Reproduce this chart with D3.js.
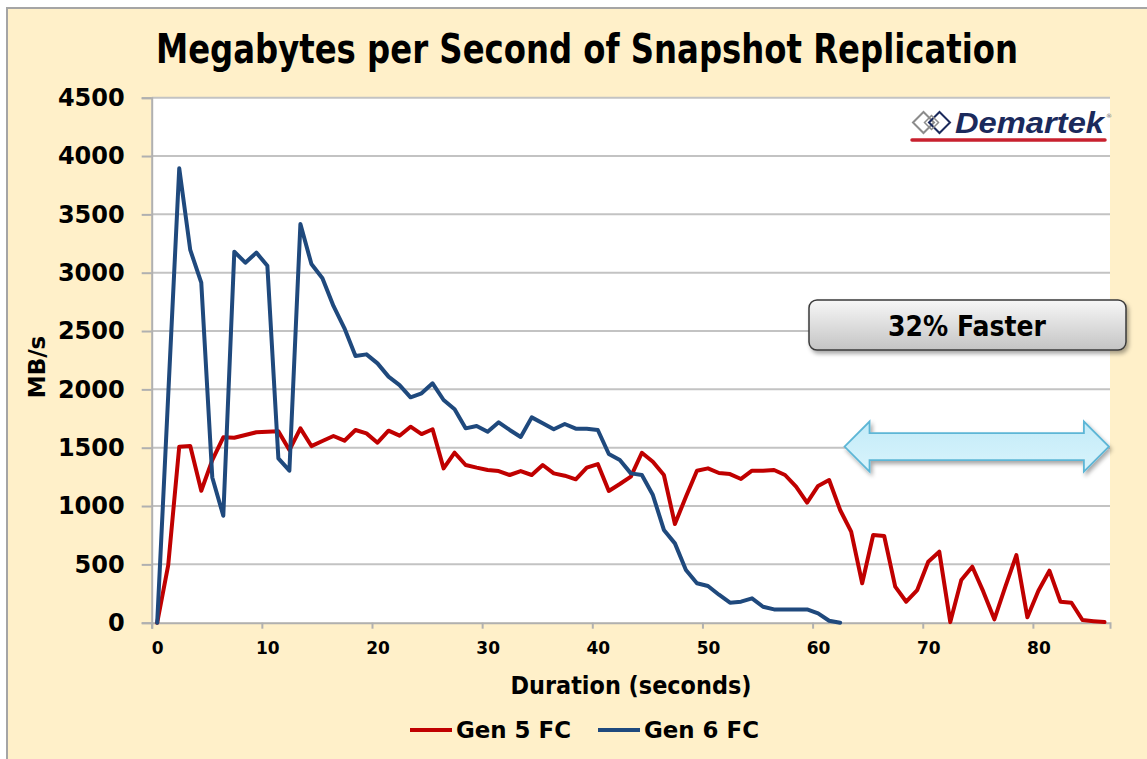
<!DOCTYPE html>
<html>
<head>
<meta charset="utf-8">
<script src="https://cdn.jsdelivr.net/npm/d3@7"></script>
<style>
  html, body { margin: 0; padding: 0; background: #ffffff; }
  svg { display: block; font-family: "DejaVu Sans", sans-serif; }
</style>
</head>
<body>
<div class="container"></div>
<script>
// chart values (one point per second)
const title = "Megabytes per Second of Snapshot Replication";
const seriesNames = ["Gen 5 FC", "Gen 6 FC"];
const gen5 = [0, 494, 1509, 1514, 1131, 1394, 1589, 1585, 1609, 1632,
  1637, 1640, 1480, 1666, 1514, 1557, 1600, 1560, 1652, 1623,
  1543, 1646, 1603, 1680, 1617, 1658, 1323, 1457, 1352, 1329,
  1309, 1300, 1266, 1300, 1266, 1352, 1280, 1260, 1229, 1329,
  1360, 1129, 1189, 1252, 1457, 1380, 1266, 846, 1080, 1303,
  1323, 1283, 1274, 1232, 1303, 1303, 1309, 1266, 1166, 1029,
  1172, 1223, 966, 780, 338, 752, 743, 309, 180, 280,
  523, 609, 5, 366, 480, 266, 29, 309, 580, 46,
  274, 446, 180, 171, 23, 13, 5];
const gen6 = [0, 1950, 3895, 3195, 2914, 1245, 917, 3180, 3086, 3172,
  3060, 1409, 1303, 3417, 3074, 2952, 2715, 2523, 2286, 2300,
  2223, 2109, 2037, 1932, 1966, 2052, 1909, 1829, 1666, 1686,
  1637, 1718, 1652, 1592, 1760, 1709, 1658, 1703, 1663, 1663,
  1652, 1446, 1394, 1280, 1266, 1094, 795, 680, 452, 338,
  315, 240, 172, 180, 209, 137, 114, 114, 114, 114,
  80, 17, 0];
const xTickLabels = [0, 10, 20, 30, 40, 50, 60, 70, 80];
const yTickValues = [0, 500, 1000, 1500, 2000, 2500, 3000, 3500, 4000, 4500];
const categoryCount = 87;

const w = 1147;
const h = 759;
const plot = { left: 151.7, right: 1110, top: 97.7, bottom: 622.7 };
const colors = ["#C00000", "#1F497D"];

const svg = d3.select(".container")
  .append("svg")
  .attr("width", w)
  .attr("height", h);

const defs = svg.append("defs");
const boxGrad = defs.append("linearGradient")
  .attr("id", "boxGrad").attr("x1", 0).attr("y1", 0).attr("x2", 0).attr("y2", 1);
boxGrad.append("stop").attr("offset", "0%").attr("stop-color", "#F7F7F7");
boxGrad.append("stop").attr("offset", "100%").attr("stop-color", "#C4C4C4");
const arrowGrad = defs.append("linearGradient")
  .attr("id", "arrowGrad").attr("x1", 0).attr("y1", 0).attr("x2", 0).attr("y2", 1);
arrowGrad.append("stop").attr("offset", "0%").attr("stop-color", "#C3EBF8");
arrowGrad.append("stop").attr("offset", "100%").attr("stop-color", "#D8F4FC");
const shadow = defs.append("filter").attr("id", "shadow")
  .attr("x", "-10%").attr("y", "-30%").attr("width", "130%").attr("height", "180%");
shadow.append("feDropShadow")
  .attr("dx", 2).attr("dy", 3).attr("stdDeviation", 2)
  .attr("flood-color", "#000").attr("flood-opacity", 0.35);

// cream frame
svg.append("rect")
  .attr("x", 7).attr("y", 8)
  .attr("width", w + 20).attr("height", h + 20)
  .attr("fill", "#FFF0C9")
  .attr("stroke", "#A5A5A5")
  .attr("stroke-width", 2);

// plot area
svg.append("rect")
  .attr("x", plot.left).attr("y", plot.top)
  .attr("width", plot.right - plot.left)
  .attr("height", plot.bottom - plot.top)
  .attr("fill", "#ffffff");

// scales: each second is one category, centered in its slot
const xScale = d3.scaleLinear()
  .domain([-0.5, categoryCount - 0.5])
  .range([plot.left, plot.right]);
const yScale = d3.scaleLinear()
  .domain([0, 4500])
  .range([plot.bottom, plot.top]);

// horizontal gridlines
svg.append("g")
  .selectAll("line")
  .data(yTickValues.filter(v => v > 0))
  .enter()
  .append("line")
  .attr("x1", plot.left).attr("x2", plot.right)
  .attr("y1", d => yScale(d)).attr("y2", d => yScale(d))
  .attr("stroke", "#C3C3C3")
  .attr("stroke-width", 2);

// y axis
const yAxis = d3.axisLeft(yScale)
  .tickValues(yTickValues)
  .tickFormat(d3.format("d"))
  .tickSize(10)
  .tickPadding(17);
const gy = svg.append("g")
  .attr("id", "y-axis")
  .attr("transform", `translate(${plot.left}, 0)`)
  .call(yAxis);
gy.select(".domain").attr("stroke", "#B0B0B0").attr("stroke-width", 2);
gy.selectAll(".tick line").attr("stroke", "#B0B0B0").attr("stroke-width", 2);
gy.selectAll("text")
  .attr("font-family", "DejaVu Sans")
  .attr("font-weight", "bold")
  .attr("font-size", 24)
  .attr("fill", "#000");

// x axis: tick marks between categories, labels on categories
const xTicks = d3.axisBottom(xScale)
  .tickValues(d3.range(-0.5, categoryCount, 10))
  .tickSize(6)
  .tickFormat("");
const gxt = svg.append("g")
  .attr("transform", `translate(0, ${plot.bottom})`)
  .call(xTicks);
gxt.select(".domain").attr("stroke", "#B0B0B0").attr("stroke-width", 2);
gxt.selectAll(".tick line").attr("stroke", "#B0B0B0").attr("stroke-width", 2);

const xAxis = d3.axisBottom(xScale)
  .tickValues(xTickLabels)
  .tickSize(0)
  .tickPadding(19);
const gx = svg.append("g")
  .attr("id", "x-axis")
  .attr("transform", `translate(0, ${plot.bottom})`)
  .call(xAxis);
gx.select(".domain").remove();
gx.selectAll("text")
  .attr("font-family", "DejaVu Sans")
  .attr("font-weight", "bold")
  .attr("font-size", 17)
  .attr("fill", "#000");

// series lines
const line = d3.line()
  .x((d, i) => xScale(i))
  .y(d => yScale(d));

svg.append("g")
  .selectAll("path")
  .data([gen5, gen6])
  .enter()
  .append("path")
  .attr("d", d => line(d))
  .attr("fill", "none")
  .attr("stroke", (d, i) => colors[i])
  .attr("stroke-width", 4)
  .attr("stroke-linejoin", "round")
  .attr("stroke-linecap", "round");

// title and axis titles
svg.append("text")
  .attr("x", 587).attr("y", 63)
  .attr("text-anchor", "middle")
  .attr("font-family", "DejaVu Sans Condensed, DejaVu Sans")
  .attr("font-weight", "bold")
  .attr("font-size", 40)
  .attr("textLength", 862)
  .attr("lengthAdjust", "spacingAndGlyphs")
  .text(title);

svg.append("text")
  .attr("transform", "translate(45, 367) rotate(-90)")
  .attr("text-anchor", "middle")
  .attr("font-weight", "bold")
  .attr("font-size", 23)
  .text("MB/s");

svg.append("text")
  .attr("x", 631).attr("y", 694)
  .attr("text-anchor", "middle")
  .attr("font-weight", "bold")
  .attr("font-size", 24)
  .attr("textLength", 241)
  .attr("lengthAdjust", "spacingAndGlyphs")
  .text("Duration (seconds)");

// legend
const legendX = [410, 598];
const legend = svg.append("g")
  .selectAll("g")
  .data(seriesNames)
  .enter()
  .append("g")
  .attr("transform", (d, i) => `translate(${legendX[i]}, 730)`);
legend.append("line")
  .attr("x1", 0).attr("x2", 42)
  .attr("stroke", (d, i) => colors[i])
  .attr("stroke-width", 4);
legend.append("text")
  .attr("x", 46).attr("y", 8)
  .attr("font-weight", "bold")
  .attr("font-size", 23)
  .attr("textLength", 115)
  .attr("lengthAdjust", "spacingAndGlyphs")
  .text(d => d);

// Demartek logo
const logo = svg.append("g");
logo.append("path")
  .attr("d", "M913,122.5 L923.5,112 L934,122.5 L923.5,133 Z")
  .attr("fill", "none").attr("stroke", "#8C8C8C").attr("stroke-width", 2);
logo.append("path")
  .attr("d", "M929,122.5 L939.5,112 L950,122.5 L939.5,133 Z")
  .attr("fill", "none").attr("stroke", "#1B2A5C").attr("stroke-width", 2);
logo.append("path")
  .attr("d", "M924.5,122.5 L931.5,115.5 L938.5,122.5 L931.5,129.5 Z")
  .attr("fill", "none").attr("stroke", "#8C8C8C").attr("stroke-width", 1.5);
logo.append("text")
  .attr("x", 955).attr("y", 133)
  .attr("font-family", "Liberation Sans, Arial, sans-serif")
  .attr("font-weight", "bold")
  .attr("font-style", "italic")
  .attr("font-size", 30)
  .attr("textLength", 149)
  .attr("lengthAdjust", "spacingAndGlyphs")
  .attr("fill", "#1B2A5C")
  .text("Demartek");
logo.append("text")
  .attr("x", 1106).attr("y", 118)
  .attr("font-size", 6)
  .attr("fill", "#666")
  .text("®");
logo.append("line")
  .attr("x1", 912).attr("x2", 1105)
  .attr("y1", 140).attr("y2", 140)
  .attr("stroke", "#C8202E")
  .attr("stroke-width", 3.5)
  .attr("stroke-linecap", "round");

// double arrow spanning the gap between the two runs
const ax0 = xScale(62.4), ax1 = xScale(86.4), ay = yScale(1510);
const head = 25, headH = 25, shaftH = 13.5;
const arrowPath = d3.path();
arrowPath.moveTo(ax0, ay);
arrowPath.lineTo(ax0 + head, ay - headH);
arrowPath.lineTo(ax0 + head, ay - shaftH);
arrowPath.lineTo(ax1 - head, ay - shaftH);
arrowPath.lineTo(ax1 - head, ay - headH);
arrowPath.lineTo(ax1, ay);
arrowPath.lineTo(ax1 - head, ay + headH);
arrowPath.lineTo(ax1 - head, ay + shaftH);
arrowPath.lineTo(ax0 + head, ay + shaftH);
arrowPath.lineTo(ax0 + head, ay + headH);
arrowPath.closePath();
svg.append("path")
  .attr("d", arrowPath.toString())
  .attr("fill", "url(#arrowGrad)")
  .attr("stroke", "#5DB6D6")
  .attr("stroke-width", 1.8)
  .attr("stroke-linejoin", "miter")
  .attr("filter", "url(#shadow)");

// "32% Faster" callout
svg.append("rect")
  .attr("x", 809).attr("y", 300)
  .attr("width", 317).attr("height", 50)
  .attr("rx", 8)
  .attr("fill", "url(#boxGrad)")
  .attr("stroke", "#3A3A3A")
  .attr("stroke-width", 1.5)
  .attr("filter", "url(#shadow)");
svg.append("text")
  .attr("x", 967).attr("y", 336)
  .attr("text-anchor", "middle")
  .attr("font-weight", "bold")
  .attr("font-size", 28)
  .attr("textLength", 158)
  .attr("lengthAdjust", "spacingAndGlyphs")
  .text("32% Faster");
</script>
</body>
</html>
